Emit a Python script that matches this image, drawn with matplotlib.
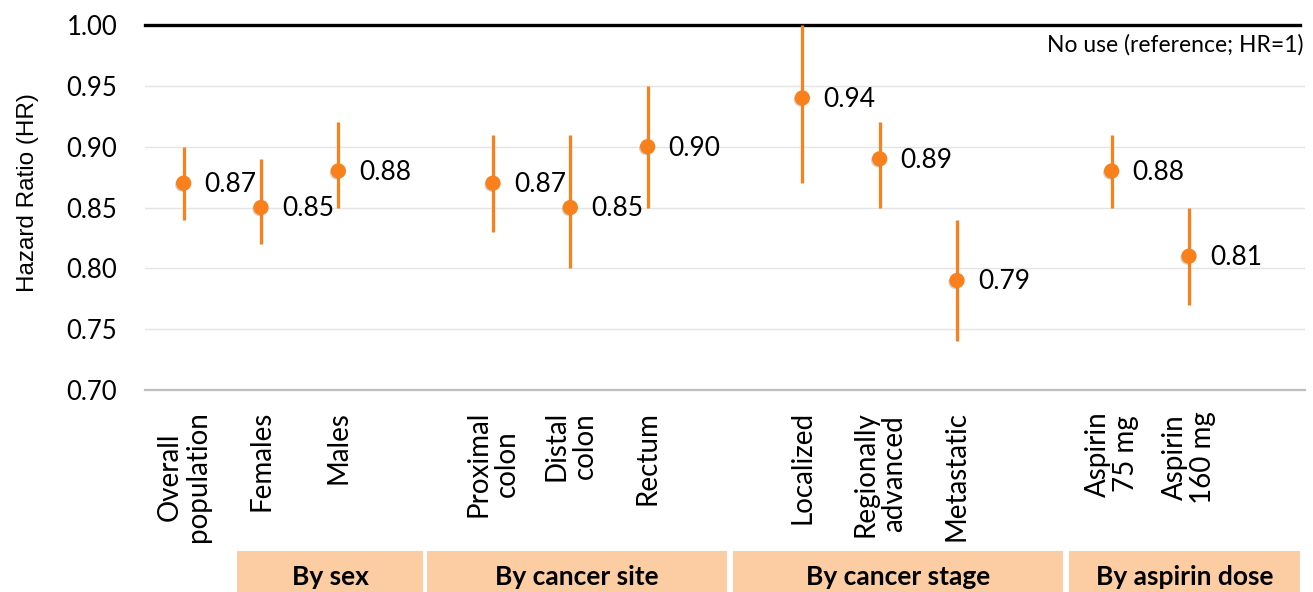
import matplotlib
matplotlib.use("Agg")
import matplotlib.pyplot as plt
import matplotlib.patheffects as pe
from matplotlib.patches import Rectangle

# Hazard ratios with 95% confidence limits
categories = ["Overall\npopulation", "Females", "Males",
              "Proximal\ncolon", "Distal\ncolon", "Rectum",
              "Localized", "Regionally\nadvanced", "Metastatic",
              "Aspirin\n75 mg", "Aspirin\n160 mg"]
hr = [0.87, 0.85, 0.88, 0.87, 0.85, 0.90, 0.94, 0.89, 0.79, 0.88, 0.81]
ci_low = [0.84, 0.82, 0.85, 0.83, 0.80, 0.85, 0.87, 0.85, 0.74, 0.85, 0.77]
ci_high = [0.90, 0.89, 0.92, 0.91, 0.91, 0.95, 1.00, 0.92, 0.84, 0.91, 0.85]

# Groups: label and number of categories (first group "Overall" has no header)
group_labels = [None, "By sex", "By cancer site", "By cancer stage", "By aspirin dose"]
group_sizes = [1, 2, 3, 3, 2]

y_ticks = [0.70, 0.75, 0.80, 0.85, 0.90, 0.95, 1.00]

ORANGE = "#F9801A"
FONT = "Lato"

# x positions: one empty slot after each of the multi-item groups
positions = []
slot = 0
for gi, size in enumerate(group_sizes):
    for _ in range(size):
        positions.append(slot)
        slot += 1
    if gi >= 1:
        slot += 1

W, H = 1313, 592
fig = plt.figure(figsize=(W / 100, H / 100), dpi=100)
ax = fig.add_axes([145 / W, 1 - 390 / H, (1305 - 145) / W, (390 - 25) / H])

ax.set_xlim(-0.5, 14.5)
ax.set_ylim(0.70, 1.00)

# grid and reference line
for yv in y_ticks[1:-1]:
    ax.axhline(yv, color="#E4E4E4", lw=1.0, zorder=0)
ax.axhline(1.00, xmin=0.0, xmax=0.996, color="black", lw=2.4, zorder=1, clip_on=False)
ax.text(0.9985, 0.975, "No use (reference; HR=1)", transform=ax.transAxes,
        ha="right", va="top", fontsize=16.5, family=FONT, color="black")

# confidence intervals
ax.vlines(positions, ci_low, ci_high, color=ORANGE, lw=2.3, zorder=2)
# point estimates with a soft shadow
ax.plot(positions, hr, ls="none", marker="o", ms=10, color=ORANGE, zorder=3,
        path_effects=[pe.SimplePatchShadow(offset=(-1.2, -1.2), shadow_rgbFace="#808080",
                                           alpha=0.35), pe.Normal()])

for x, v in zip(positions, hr):
    ax.annotate(f"{v:.2f}", (x, v), xytext=(15, -1), textcoords="offset points",
                ha="left", va="center", fontsize=19, family=FONT, color="black")

# axes styling
for side in ["top", "right", "left"]:
    ax.spines[side].set_visible(False)
ax.spines["bottom"].set_color("#BFBFBF")
ax.spines["bottom"].set_linewidth(1.6)

ax.set_yticks(y_ticks)
ax.set_yticklabels([f"{t:.2f}" for t in y_ticks], fontsize=18.5, family=FONT)
ax.tick_params(axis="y", length=0, pad=20)

ax.set_xticks(positions)
ax.set_xticklabels(categories, rotation=90, fontsize=20, family=FONT,
                   ha="center", va="top", multialignment="center", linespacing=1.1)
ax.tick_params(axis="x", length=0, pad=15)

fig.text(28 / W, 1 - 193 / H, "Hazard Ratio (HR)", rotation=90, ha="center", va="center",
         fontsize=17.5, family="Liberation Sans")

# group header boxes below the category labels
box_edges = [(237, 423), (427, 727), (733, 1063), (1069, 1300)]
for label, (x0, x1) in zip([g for g in group_labels if g], box_edges):
    fig.add_artist(Rectangle((x0 / W, 0), (x1 - x0) / W, (H - 551) / H,
                             transform=fig.transFigure, facecolor="#FCCCA2",
                             edgecolor="none"))
    fig.text((x0 + x1) / 2 / W, 1 - 577 / H, label, ha="center", va="center",
             fontsize=19, fontweight="bold", family=FONT)

fig.savefig("out.png", dpi=100)
